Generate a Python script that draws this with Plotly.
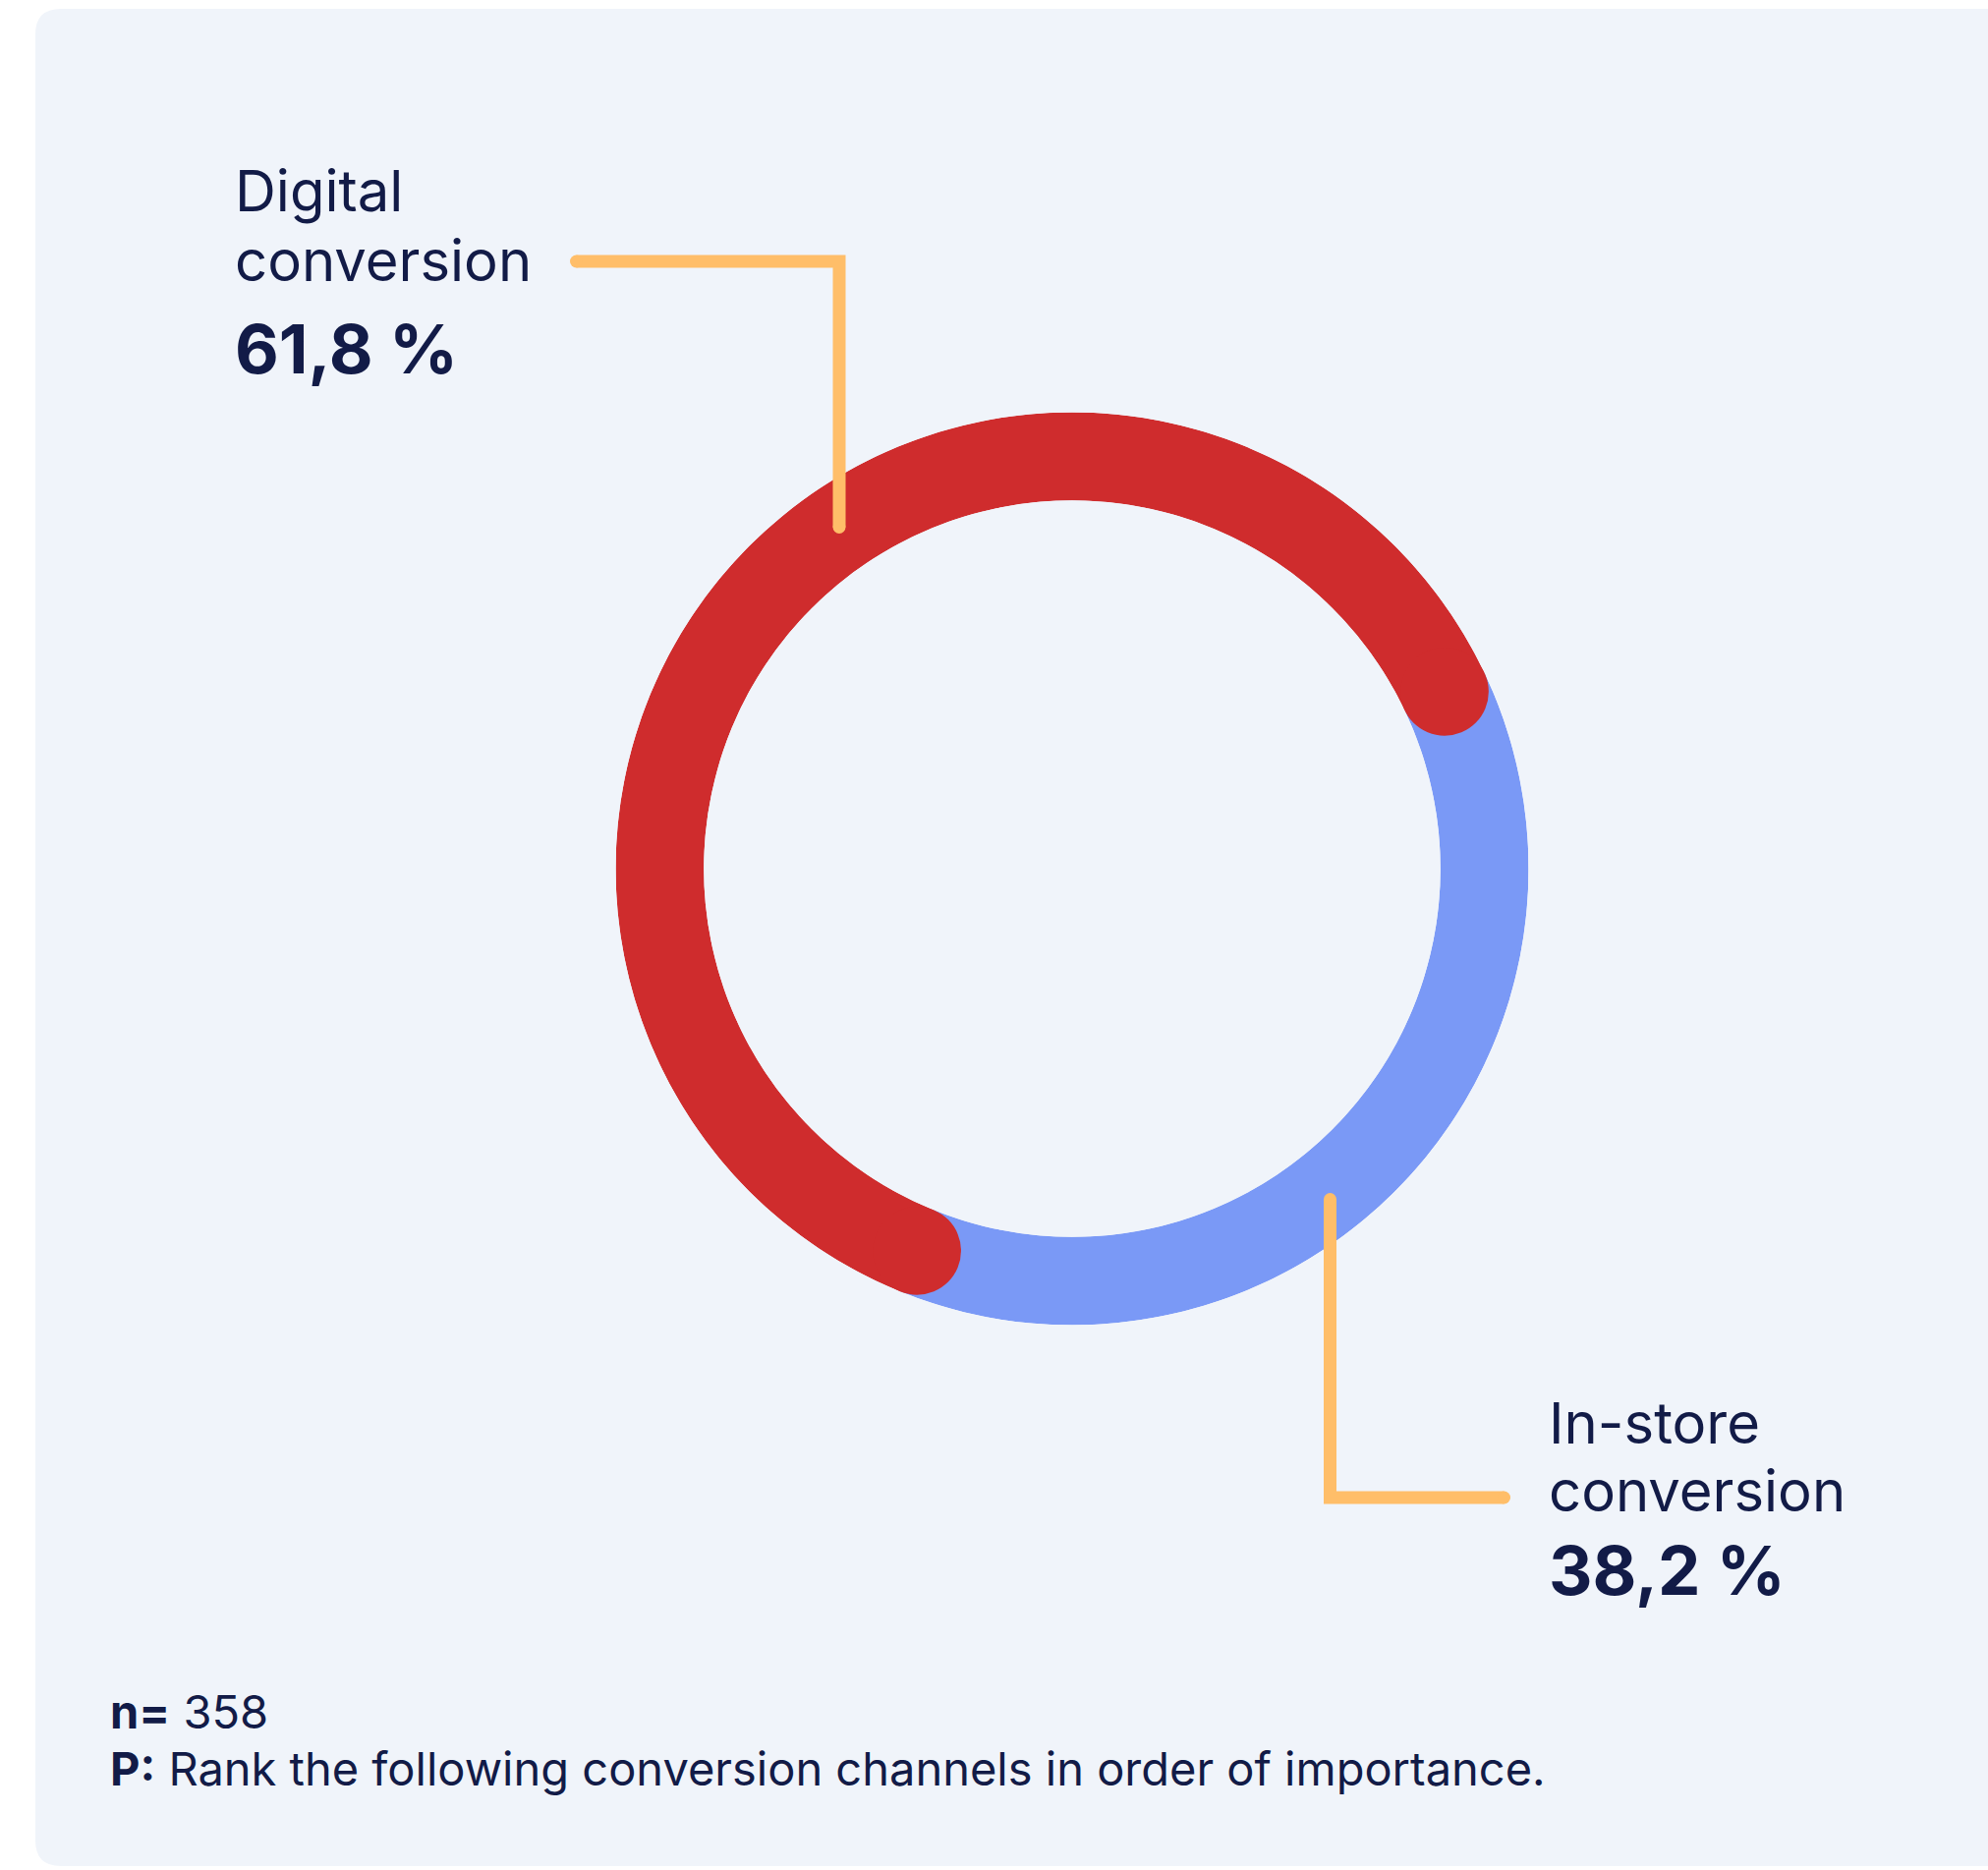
import plotly.graph_objects as go

# --- data -------------------------------------------------------------
categories = ["Digital conversion", "In-store conversion"]
label_lines = [["Digital", "conversion"], ["In-store", "conversion"]]
shares = [61.8, 38.2]
sample_size = 358
question = "Rank the following conversion channels in order of importance."

# --- style ------------------------------------------------------------
W, H = 2023, 1903
RED, BLUE = "#CF2C2D", "#7A99F6"
ORANGE = "#FFBE69"
NAVY = "#121B47"
PANEL = "#F0F4FA"
FONT = "Inter"

# ring geometry (pixels)
cx, cy = 1091, 884
r_out, r_in = 464.5, 374.8
start_angle = 202.1  # clockwise from 12 o'clock, where the first slice begins


def px(x):
    return x / W


def py(y):
    return 1 - y / H


spans = [s / 100 * 360 for s in shares]
red_start = start_angle
red_end = start_angle + spans[0]
red_center = start_angle + spans[0] / 2
blue_center = red_end + spans[1] / 2

fig = go.Figure()

fig.add_trace(go.Barpolar(
    r=[1], base=[0], theta=[blue_center], width=[spans[1]],
    marker=dict(color=BLUE, line=dict(width=0)),
    name=categories[1], hoverinfo="skip", showlegend=False,
))
fig.add_trace(go.Barpolar(
    r=[1], base=[0], theta=[red_center], width=[spans[0]],
    marker=dict(color=RED, line=dict(width=0)),
    name=categories[0], hoverinfo="skip", showlegend=False,
))
# rounded ends of the leading arc
fig.add_trace(go.Scatterpolar(
    r=[0.5, 0.5], theta=[red_start, red_end], mode="markers",
    marker=dict(size=r_out - r_in, color=RED, line=dict(width=0)),
    hoverinfo="skip", showlegend=False,
))

shapes = []
# background card with rounded corners
L, T, R, B, rad = 36, 9, 2080, 1899, 26
panel_path = (
    f"M {px(L + rad)} {py(T)} L {px(R)} {py(T)} L {px(R)} {py(B)} "
    f"L {px(L + rad)} {py(B)} Q {px(L)} {py(B)} {px(L)} {py(B - rad)} "
    f"L {px(L)} {py(T + rad)} Q {px(L)} {py(T)} {px(L + rad)} {py(T)} Z"
)
shapes.append(dict(type="path", path=panel_path, xref="paper", yref="paper",
                   fillcolor=PANEL, line=dict(width=0), layer="below"))

# leader lines
lw = 13
leaders = [
    [(586.5, 266), (854, 266), (854, 536.5)],
    [(1353.5, 1220.5), (1353.5, 1524), (1530.5, 1524)],
]
for pts in leaders:
    path = "M " + " L ".join(f"{px(x)} {py(y)}" for x, y in pts)
    shapes.append(dict(type="path", path=path, xref="paper", yref="paper",
                       line=dict(color=ORANGE, width=lw), layer="above"))
    for x, y in (pts[0], pts[-1]):
        shapes.append(dict(type="circle", xref="paper", yref="paper",
                           x0=px(x - lw / 2), x1=px(x + lw / 2),
                           y0=py(y + lw / 2), y1=py(y - lw / 2),
                           fillcolor=ORANGE, line=dict(width=0), layer="above"))

annotations = []


def add_text(text, x, y, size):
    annotations.append(dict(
        text=text, x=px(x), y=py(y), xref="paper", yref="paper",
        xanchor="left", yanchor="middle", showarrow=False,
        font=dict(family=FONT, size=size, color=NAVY),
    ))


def pct(v):
    return f"{v:.1f}".replace(".", ",") + " %"


label_pos = [(237, [194.5, 265, 354.5]), (1574, [1447.5, 1517, 1598])]
for lines, share, (lx, ys) in zip(label_lines, shares, label_pos):
    add_text(lines[0], lx, ys[0], 58)
    add_text(lines[1], lx, ys[1], 58)
    add_text(f"<b>{pct(share)}</b>", lx, ys[2], 69)

add_text(f"<b>n=</b> {sample_size}", 110, 1741.5, 47)
add_text(f"<b>P:</b> {question}", 110, 1799.5, 47)

fig.update_layout(
    width=W, height=H,
    margin=dict(l=0, r=0, t=0, b=0),
    paper_bgcolor="white",
    plot_bgcolor="rgba(0,0,0,0)",
    showlegend=False,
    polar=dict(
        domain=dict(x=[px(cx - r_out), px(cx + r_out)],
                    y=[py(cy + r_out), py(cy - r_out)]),
        hole=r_in / r_out,
        bgcolor="rgba(0,0,0,0)",
        radialaxis=dict(range=[0, 1], visible=False, showgrid=False),
        angularaxis=dict(rotation=90, direction="clockwise", visible=False,
                         showgrid=False),
        barmode="overlay",
    ),
    shapes=shapes,
    annotations=annotations,
)

fig.write_html("out.html", config=dict(displayModeBar=False))
